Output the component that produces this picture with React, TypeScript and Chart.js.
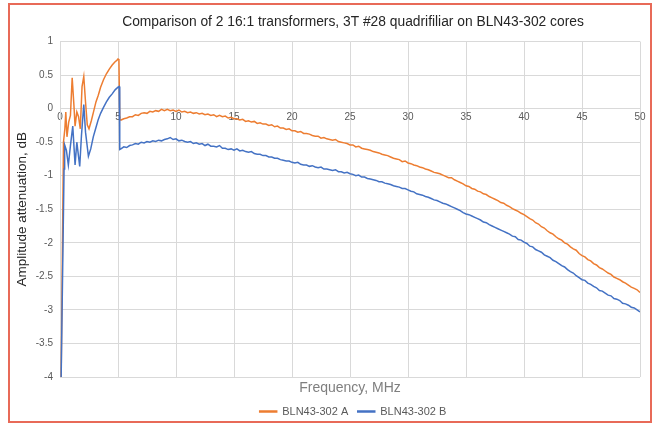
import React, { useEffect, useRef } from "react";
import { Chart, registerables } from "chart.js";

Chart.register(...registerables);

const TITLE = "Comparison of 2 16:1 transformers, 3T #28 quadrifiliar on BLN43-302 cores";
const X_TITLE = "Frequency, MHz";
const Y_TITLE = "Amplitude attenuation, dB";
const SERIES_NAMES = ["BLN43-302 A", "BLN43-302 B"];

// Low-frequency part (irregular spikes), MHz
const freqA_low = [0.1, 0.3, 0.42, 0.5, 0.6, 0.75, 0.9, 1.05, 1.2, 1.3, 1.45, 1.6, 1.75, 1.9, 2.05, 2.2, 2.35, 2.5, 2.7, 2.9, 3.1, 3.3, 3.5, 3.75, 4.0, 4.25, 4.5, 4.75, 4.9, 5.0, 5.08, 5.15];
const valsA_low = [-4.0, -0.5, -0.3, -0.05, -0.42, -0.2, -0.1, 0.46, 0.05, -0.26, -0.05, -0.12, -0.3, 0.33, 0.48, 0.1, -0.24, -0.3, -0.18, -0.04, 0.1, 0.2, 0.32, 0.43, 0.52, 0.59, 0.65, 0.7, 0.72, 0.74, 0.73, -0.16];

const freqB_low = [0.1, 0.35, 0.4, 0.55, 0.72, 0.9, 1.1, 1.3, 1.45, 1.7, 1.85, 2.05, 2.2, 2.45, 2.65, 2.87, 3.1, 3.3, 3.5, 3.75, 4.0, 4.25, 4.5, 4.75, 5.0, 5.1, 5.15];
const valsB_low = [-4.0, -0.9, -0.54, -0.62, -0.84, -0.55, -0.26, -0.84, -0.5, -0.86, -0.4, 0.06, -0.35, -0.71, -0.6, -0.42, -0.28, -0.16, -0.07, 0.02, 0.1, 0.17, 0.22, 0.28, 0.32, 0.33, -0.61];

// Upper part, shared frequency grid, MHz
const freqTail = [
  5.25, 5.5, 5.75, 6, 6.25, 6.5, 6.75, 7, 7.25, 7.5, 7.75, 8, 8.25, 8.5, 8.75, 9, 9.25, 9.5, 9.75, 10,
  10.25, 10.5, 10.75, 11, 11.25, 11.5, 11.75, 12, 12.25, 12.5, 12.75, 13, 13.25, 13.5, 13.75, 14, 14.25, 14.5, 14.75, 15,
  15.25, 15.5, 15.75, 16, 16.25, 16.5, 16.75, 17, 17.25, 17.5, 17.75, 18, 18.25, 18.5, 18.75, 19, 19.25, 19.5, 19.75, 20,
  20.25, 20.5, 20.75, 21, 21.25, 21.5, 21.75, 22, 22.25, 22.5, 22.75, 23, 23.25, 23.5, 23.75, 24, 24.25, 24.5, 24.75, 25,
  25.25, 25.5, 25.75, 26, 26.25, 26.5, 26.75, 27, 27.25, 27.5, 27.75, 28, 28.25, 28.5, 28.75, 29, 29.25, 29.5, 29.75, 30,
  30.25, 30.5, 30.75, 31, 31.25, 31.5, 31.75, 32, 32.25, 32.5, 32.75, 33, 33.25, 33.5, 33.75, 34, 34.25, 34.5, 34.75, 35,
  35.25, 35.5, 35.75, 36, 36.25, 36.5, 36.75, 37, 37.25, 37.5, 37.75, 38, 38.25, 38.5, 38.75, 39, 39.25, 39.5, 39.75, 40,
  40.25, 40.5, 40.75, 41, 41.25, 41.5, 41.75, 42, 42.25, 42.5, 42.75, 43, 43.25, 43.5, 43.75, 44, 44.25, 44.5, 44.75, 45,
  45.25, 45.5, 45.75, 46, 46.25, 46.5, 46.75, 47, 47.25, 47.5, 47.75, 48, 48.25, 48.5, 48.75, 49, 49.25, 49.5, 49.75, 50,
];

const valsA_tail = [
  -0.17, -0.15, -0.14, -0.12, -0.12, -0.09, -0.10, -0.07, -0.06, -0.07, -0.04, -0.05, -0.03, -0.04, -0.01, -0.03, -0.01, -0.03, -0.02, -0.04,
  -0.02, -0.05, -0.04, -0.06, -0.05, -0.07, -0.06, -0.08, -0.07, -0.09, -0.08, -0.10, -0.09, -0.12, -0.10, -0.12, -0.11, -0.14, -0.13, -0.15,
  -0.15, -0.17, -0.16, -0.19, -0.18, -0.20, -0.19, -0.22, -0.21, -0.23, -0.23, -0.25, -0.24, -0.27, -0.26, -0.29, -0.29, -0.31, -0.30, -0.33,
  -0.33, -0.35, -0.34, -0.37, -0.37, -0.38, -0.40, -0.41, -0.41, -0.44, -0.43, -0.45, -0.46, -0.47, -0.46, -0.49, -0.50, -0.51, -0.52, -0.54,
  -0.54, -0.57, -0.56, -0.59, -0.60, -0.61, -0.62, -0.64, -0.65, -0.66, -0.68, -0.69, -0.70, -0.72, -0.74, -0.75, -0.76, -0.79, -0.78, -0.81,
  -0.82, -0.84, -0.85, -0.87, -0.88, -0.90, -0.91, -0.93, -0.95, -0.96, -0.97, -0.99, -1.01, -1.03, -1.03, -1.06, -1.08, -1.10, -1.12, -1.15,
  -1.16, -1.19, -1.20, -1.23, -1.24, -1.27, -1.28, -1.31, -1.33, -1.35, -1.37, -1.40, -1.41, -1.44, -1.46, -1.49, -1.51, -1.53, -1.56, -1.58,
  -1.61, -1.64, -1.66, -1.70, -1.72, -1.76, -1.78, -1.82, -1.85, -1.87, -1.91, -1.94, -1.96, -2.00, -2.02, -2.06, -2.09, -2.11, -2.16, -2.19,
  -2.21, -2.25, -2.27, -2.31, -2.33, -2.37, -2.39, -2.42, -2.45, -2.47, -2.51, -2.53, -2.55, -2.58, -2.60, -2.63, -2.66, -2.68, -2.70, -2.74,
];

const valsB_tail = [
  -0.60, -0.57, -0.58, -0.55, -0.54, -0.52, -0.53, -0.50, -0.51, -0.49, -0.50, -0.48, -0.49, -0.47, -0.48, -0.46, -0.45, -0.43, -0.46, -0.45,
  -0.48, -0.47, -0.49, -0.50, -0.49, -0.52, -0.51, -0.53, -0.52, -0.55, -0.53, -0.56, -0.56, -0.57, -0.55, -0.59, -0.59, -0.61, -0.60, -0.62,
  -0.60, -0.63, -0.62, -0.64, -0.65, -0.64, -0.67, -0.68, -0.68, -0.70, -0.70, -0.72, -0.72, -0.74, -0.74, -0.76, -0.77, -0.78, -0.78, -0.80,
  -0.81, -0.80, -0.83, -0.84, -0.84, -0.86, -0.85, -0.87, -0.88, -0.87, -0.90, -0.90, -0.91, -0.92, -0.91, -0.94, -0.94, -0.96, -0.95, -0.97,
  -0.98, -1.00, -0.99, -1.02, -1.02, -1.04, -1.05, -1.06, -1.07, -1.09, -1.09, -1.11, -1.12, -1.13, -1.15, -1.16, -1.17, -1.19, -1.19, -1.21,
  -1.23, -1.24, -1.27, -1.28, -1.29, -1.31, -1.32, -1.34, -1.36, -1.37, -1.39, -1.41, -1.42, -1.44, -1.46, -1.48, -1.50, -1.52, -1.55, -1.57,
  -1.58, -1.60, -1.62, -1.64, -1.66, -1.69, -1.70, -1.73, -1.75, -1.77, -1.79, -1.81, -1.83, -1.85, -1.87, -1.90, -1.91, -1.95, -1.96, -1.99,
  -2.01, -2.05, -2.06, -2.10, -2.12, -2.14, -2.18, -2.20, -2.22, -2.26, -2.28, -2.31, -2.34, -2.36, -2.40, -2.43, -2.45, -2.49, -2.52, -2.55,
  -2.56, -2.60, -2.62, -2.65, -2.67, -2.71, -2.72, -2.75, -2.78, -2.79, -2.83, -2.84, -2.86, -2.90, -2.91, -2.93, -2.96, -2.97, -3.00, -3.03,
];

const X_MIN = 0;
const X_MAX = 50;
const X_STEP = 5;
const Y_MIN = -4;
const Y_MAX = 1;
const Y_STEP = 0.5;

const COLOR_A = "#ED7D31";
const COLOR_B = "#4472C4";
const GRID = "#D9D9D9";
const TICK_COLOR = "#595959";

function toPoints(fx: number[], fy: number[]) {
  return fx.map((x, i) => ({ x, y: fy[i] }));
}

export default function App() {
  const ref = useRef<HTMLCanvasElement | null>(null);

  useEffect(() => {
    if (!ref.current) return;
    Chart.defaults.font.family = "'Liberation Sans', Arial, sans-serif";
    const pointsA = toPoints(freqA_low.concat(freqTail), valsA_low.concat(valsA_tail));
    const pointsB = toPoints(freqB_low.concat(freqTail), valsB_low.concat(valsB_tail));
    const chart = new Chart(ref.current, {
      type: "line",
      data: {
        datasets: [
          {
            label: SERIES_NAMES[0],
            data: pointsA,
            borderColor: COLOR_A,
            backgroundColor: COLOR_A,
            borderWidth: 1.5,
            pointRadius: 0,
            order: 1,
          },
          {
            label: SERIES_NAMES[1],
            data: pointsB,
            borderColor: COLOR_B,
            backgroundColor: COLOR_B,
            borderWidth: 1.5,
            pointRadius: 0,
            order: 0,
          },
        ],
      },
      options: {
        animation: false,
        responsive: false,
        devicePixelRatio: 1,
        layout: { padding: 0 },
        plugins: {
          title: {
            display: true,
            text: TITLE,
            color: "#262626",
            font: { size: 13.8, weight: "normal" },
            padding: { top: 14, bottom: 11 },
          },
          legend: {
            display: true,
            position: "bottom",
            labels: {
              color: TICK_COLOR,
              font: { size: 11 },
              boxWidth: 17,
              boxHeight: 1,
              padding: 9.5,
              sort: (a: any, b: any) => a.datasetIndex - b.datasetIndex,
            },
          },
          tooltip: { enabled: false },
        },
        scales: {
          x: {
            type: "linear",
            position: { y: 0 } as any,
            min: X_MIN,
            max: X_MAX,
            grid: { color: GRID, drawTicks: false },
            border: { color: GRID },
            ticks: {
              stepSize: X_STEP,
              autoSkip: false,
              maxRotation: 0,
              color: TICK_COLOR,
              font: { size: 10 },
              padding: 3,
            },
          },
          xt: {
            type: "linear",
            position: "bottom",
            min: X_MIN,
            max: X_MAX,
            grid: { display: false, drawTicks: false },
            border: { display: false },
            ticks: { display: false },
            title: {
              display: true,
              text: X_TITLE,
              color: "#7F7F7F",
              font: { size: 14 },
              padding: 0,
            },
            afterFit: (s: any) => {
              s.height = 19.5;
            },
          },
          y: {
            type: "linear",
            position: "left",
            min: Y_MIN,
            max: Y_MAX,
            grid: { color: GRID, drawTicks: false },
            border: { color: GRID },
            ticks: {
              stepSize: Y_STEP,
              color: TICK_COLOR,
              font: { size: 10 },
              padding: 7,
              callback: (v: any) => String(v),
            },
            title: {
              display: true,
              text: Y_TITLE,
              color: "#262626",
              font: { size: 13.5 },
              padding: { top: 14, bottom: 0 },
            },
            afterFit: (s: any) => {
              s.width = 60;
            },
          },
          yr: {
            type: "linear",
            position: "right",
            min: Y_MIN,
            max: Y_MAX,
            grid: { display: false, drawTicks: false },
            border: { display: false },
            ticks: { display: false },
            afterFit: (s: any) => {
              s.width = 66;
            },
          },
        },
      },
    });
    return () => chart.destroy();
  }, []);

  return (
    <div
      style={{
        position: "fixed",
        left: 0,
        top: 0,
        width: 655,
        height: 423,
        overflow: "hidden",
        background: "#ffffff",
      }}
    >
      <canvas
        ref={ref}
        width={706}
        height={427}
        style={{ position: "absolute", left: 0, top: 0, width: 706, height: 427 }}
      />
      <div
        style={{
          position: "absolute",
          left: 8,
          top: 3,
          width: 644,
          height: 420,
          boxSizing: "border-box",
          border: "2.5px solid #E86A58",
          pointerEvents: "none",
        }}
      />
    </div>
  );
}
